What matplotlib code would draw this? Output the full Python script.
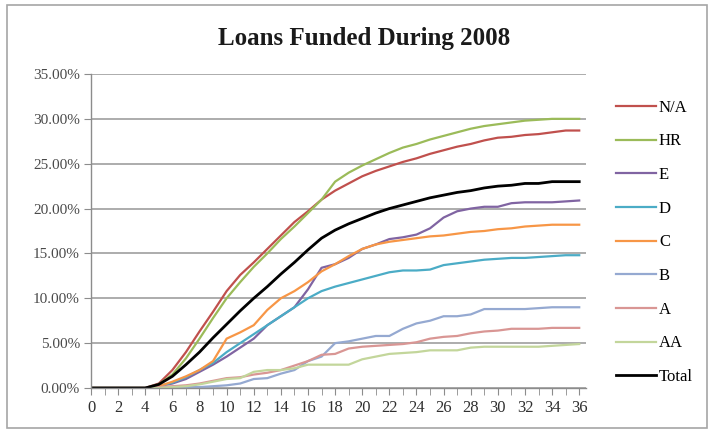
import matplotlib
matplotlib.use("Agg")
import matplotlib.pyplot as plt
from matplotlib.patches import Rectangle
from matplotlib.ticker import FuncFormatter, MultipleLocator

months = list(range(0, 37))

na = [0, 0, 0, 0, 0, 0.5, 2.0, 4.0, 6.3, 8.5, 10.8, 12.6, 14.0, 15.5, 17.0, 18.5, 19.7, 21.0,
      22.0, 22.8, 23.6, 24.2, 24.7, 25.2, 25.6, 26.1, 26.5, 26.9, 27.2, 27.6, 27.9, 28.0, 28.2,
      28.3, 28.5, 28.7, 28.7]
hr = [0, 0, 0, 0, 0, 0.4, 1.5, 3.3, 5.5, 7.8, 10.0, 11.8, 13.5, 15.0, 16.6, 18.0, 19.5, 21.0,
      23.0, 24.0, 24.8, 25.5, 26.2, 26.8, 27.2, 27.7, 28.1, 28.5, 28.9, 29.2, 29.4, 29.6, 29.8,
      29.9, 30.0, 30.0, 30.0]
e = [0, 0, 0, 0, 0, 0.2, 0.5, 1.0, 1.8, 2.6, 3.5, 4.5, 5.5, 7.0, 8.0, 9.0, 11.0, 13.4,
     13.8, 14.5, 15.5, 16.0, 16.6, 16.8, 17.1, 17.8, 19.0, 19.7, 20.0, 20.2, 20.2, 20.6, 20.7,
     20.7, 20.7, 20.8, 20.9]
d = [0, 0, 0, 0, 0, 0.2, 0.6, 1.2, 2.0, 2.8, 4.0, 5.0, 6.0, 7.0, 8.0, 9.0, 10.0, 10.8,
     11.3, 11.7, 12.1, 12.5, 12.9, 13.1, 13.1, 13.2, 13.7, 13.9, 14.1, 14.3, 14.4, 14.5, 14.5,
     14.6, 14.7, 14.8, 14.8]
c = [0, 0, 0, 0, 0, 0.2, 0.7, 1.3, 2.0, 3.0, 5.5, 6.2, 7.0, 8.7, 10.0, 10.8, 11.8, 13.0,
     13.8, 14.7, 15.5, 16.0, 16.3, 16.5, 16.7, 16.9, 17.0, 17.2, 17.4, 17.5, 17.7, 17.8, 18.0,
     18.1, 18.2, 18.2, 18.2]
b = [0, 0, 0, 0, 0, 0, 0, 0.1, 0.1, 0.2, 0.3, 0.5, 1.0, 1.1, 1.6, 2.0, 3.0, 3.5,
     5.0, 5.2, 5.5, 5.8, 5.8, 6.6, 7.2, 7.5, 8.0, 8.0, 8.2, 8.8, 8.8, 8.8, 8.8,
     8.9, 9.0, 9.0, 9.0]
a = [0, 0, 0, 0, 0, 0.1, 0.2, 0.3, 0.5, 0.8, 1.1, 1.2, 1.5, 1.7, 2.0, 2.5, 3.0, 3.7,
     3.8, 4.4, 4.6, 4.7, 4.8, 4.9, 5.1, 5.5, 5.7, 5.8, 6.1, 6.3, 6.4, 6.6, 6.6,
     6.6, 6.7, 6.7, 6.7]
aa = [0, 0, 0, 0, 0, 0, 0.1, 0.2, 0.4, 0.7, 1.0, 1.1, 1.8, 2.0, 2.0, 2.2, 2.6, 2.6,
      2.6, 2.6, 3.2, 3.5, 3.8, 3.9, 4.0, 4.2, 4.2, 4.2, 4.5, 4.6, 4.6, 4.6, 4.6,
      4.6, 4.7, 4.8, 4.9]
total = [0, 0, 0, 0, 0, 0.4, 1.3, 2.6, 4.0, 5.6, 7.1, 8.6, 10.0, 11.3, 12.7, 14.0, 15.4, 16.7,
         17.6, 18.3, 18.9, 19.5, 20.0, 20.4, 20.8, 21.2, 21.5, 21.8, 22.0, 22.3, 22.5, 22.6, 22.8,
         22.8, 23.0, 23.0, 23.0]

series_names = ["N/A", "HR", "E", "D", "C", "B", "A", "AA", "Total"]
series_values = [na, hr, e, d, c, b, a, aa, total]
series_colors = ["#C0504D", "#9BBB59", "#8064A2", "#4BACC6", "#F79646",
                 "#95A9D1", "#D99694", "#C3D69B", "#000000"]

plt.rcParams['font.family'] = ['Liberation Serif', 'DejaVu Serif']

fig = plt.figure(figsize=(7.1, 4.32), dpi=100)
W, H = 710, 432
fig.patches.append(Rectangle((7 / W, 1 - 428 / H), 700 / W, 423 / H, transform=fig.transFigure,
                             fill=False, edgecolor="#A6A6A6", linewidth=1.2))

ax = fig.add_axes([91 / W, 1 - 388 / H, (586 - 91) / W, (388 - 74) / H])

for name, vals, col in zip(series_names, series_values, series_colors):
    lw = 2.0 if name == "Total" else 1.6
    ax.plot(months, vals, color=col, linewidth=lw, label=name, solid_joinstyle='round')

ax.set_xlim(0, 36.5)
ax.set_ylim(0, 35)
ax.yaxis.set_major_locator(MultipleLocator(5))
ax.yaxis.set_major_formatter(FuncFormatter(lambda v, p: f"{v:.2f}%"))
ax.set_xticks(list(range(0, 37, 2)))
ax.set_xticks(list(range(0, 37)), minor=True)
ax.xaxis.set_major_formatter(FuncFormatter(lambda v, p: f"{int(v)}"))

ax.grid(axis='y', color="#A6A6A6", linewidth=1.3)
ax.set_axisbelow(True)
for s in ["top", "right"]:
    ax.spines[s].set_visible(False)
for s in ["left", "bottom"]:
    ax.spines[s].set_color("#8C8C8C")
    ax.spines[s].set_linewidth(1.0)

ax.tick_params(axis='y', direction='out', length=5, color="#8C8C8C", labelsize=11,
               labelcolor="#4A4A4A", pad=3)
ax.tick_params(axis='x', which='both', direction='out', length=5, color="#8C8C8C",
               labelsize=12, labelcolor="#303030", pad=4)

fig.text(364 / W, 1 - 38 / H, "Loans Funded During 2008", ha='center', va='center',
         fontsize=18, fontweight='bold', color="#1A1A1A")

leg = ax.legend(loc='upper left', bbox_to_anchor=(609 / W, 1 - 93 / H),
                bbox_transform=fig.transFigure, frameon=False, fontsize=12,
                handlelength=2.4, handletextpad=0.2, labelspacing=1.06, borderaxespad=0)

fig.savefig("out.png", dpi=100)
